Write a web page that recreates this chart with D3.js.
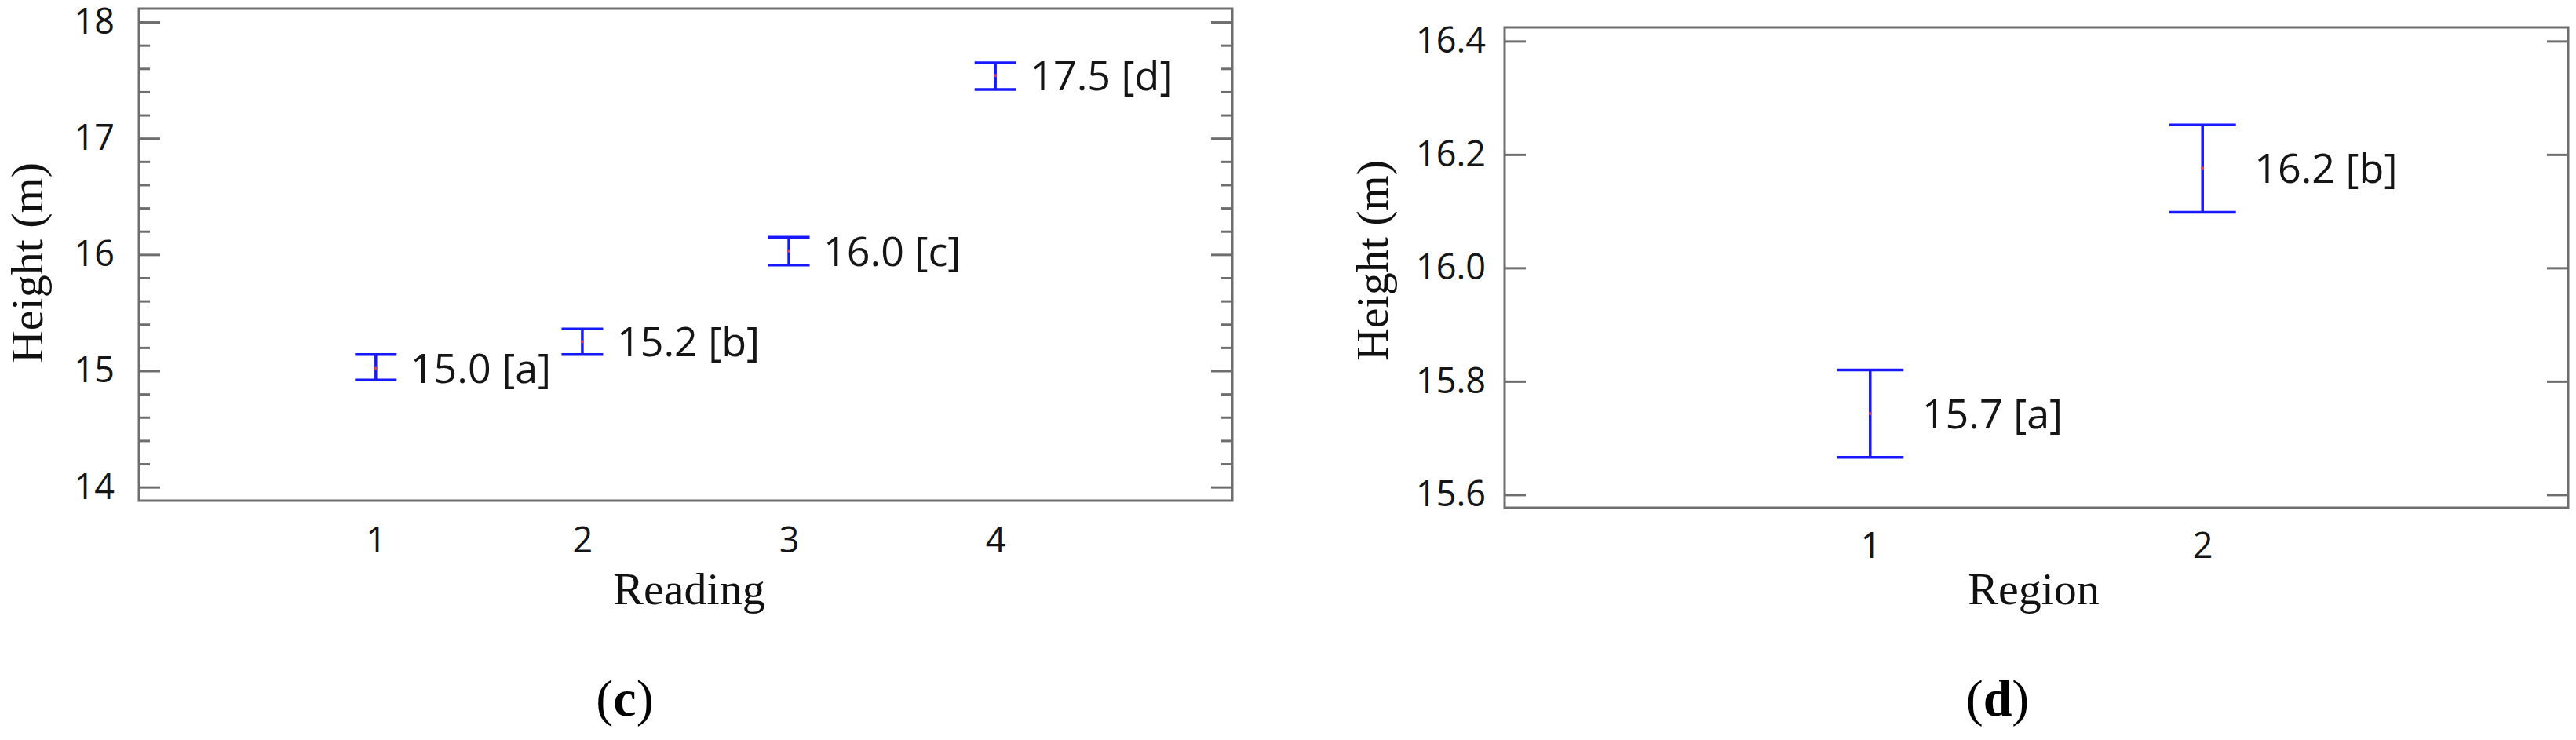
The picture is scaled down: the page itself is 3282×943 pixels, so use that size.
<!DOCTYPE html>
<html>
<head>
<meta charset="utf-8">
<script src="https://cdn.jsdelivr.net/npm/d3@7"></script>
<style>
  html, body { margin: 0; padding: 0; background: #fff; }
  svg { display: block; }
</style>
</head>
<body>
<div id="chart"></div>
<script>
(function () {
    "use strict";

    // panel (c) - reading
    var readingCats = [1, 2, 3, 4];
    var readingMean = [15.02, 15.25, 16.03, 17.54];
    var readingLow = [14.92, 15.14, 15.91, 17.42];
    var readingHigh = [15.14, 15.36, 16.15, 17.65];
    var readingLabels = ["15.0 [a]", "15.2 [b]", "16.0 [c]", "17.5 [d]"];
    var readingTicks = [14, 15, 16, 17, 18];
    var readingMinor = [14.2, 14.4, 14.6, 14.8, 15.2, 15.4, 15.6, 15.8,
        16.2, 16.4, 16.6, 16.8, 17.2, 17.4, 17.6, 17.8];

    // panel (d) - region
    var regionCats = [1, 2];
    var regionMean = [15.743, 16.176];
    var regionLow = [15.666, 16.098];
    var regionHigh = [15.82, 16.252];
    var regionLabels = ["15.7 [a]", "16.2 [b]"];
    var regionTicks = [15.6, 15.8, 16.0, 16.2, 16.4];

    var W = 3282, H = 943;
    var barColour = "#1818ff";
    var frameColour = "#6e6e6e";

    var svg = d3.select("#chart").append("svg")
        .attr("width", W)
        .attr("height", H);

    var panels = [
        {
            cats: readingCats, mean: readingMean, low: readingLow, high: readingHigh,
            labels: readingLabels, ticks: readingTicks, minor: readingMinor,
            fmt: d3.format("d"),
            left: 177, right: 1570, top: 11, bottom: 638,
            xDomain: [-0.147, 5.147], yDomain: [13.883, 18.115],
            capW: 53, labelOffset: 44, yPad: 31, xPad: 34,
            xTitle: "Reading", xTitleX: 878, yTitleX: 54, yTitleY: 335,
            tag: "c", tagX: 796
        },
        {
            cats: regionCats, mean: regionMean, low: regionLow, high: regionHigh,
            labels: regionLabels, ticks: regionTicks, minor: [],
            fmt: d3.format(".1f"),
            left: 1917, right: 3272, top: 35, bottom: 647,
            xDomain: [-0.1, 3.1], yDomain: [15.577, 16.424],
            capW: 85, labelOffset: 66, yPad: 24, xPad: 32,
            xTitle: "Region", xTitleX: 2591, yTitleX: 1768, yTitleY: 332,
            tag: "d", tagX: 2545
        }
    ];

    panels.forEach(function (p) {

        var x = d3.scaleLinear().domain(p.xDomain).range([p.left, p.right]);
        var y = d3.scaleLinear().domain(p.yDomain).range([p.bottom, p.top]);
        var g = svg.append("g");

        //Left axis with inward ticks
        g.append("g")
            .attr("transform", "translate(" + p.left + ",0)")
            .call(d3.axisLeft(y).tickValues(p.ticks).tickFormat(p.fmt)
                .tickSizeInner(-27).tickSizeOuter(0).tickPadding(p.yPad));
        g.append("g")
            .attr("transform", "translate(" + p.right + ",0)")
            .call(d3.axisRight(y).tickValues(p.ticks).tickFormat("")
                .tickSizeInner(-27).tickSizeOuter(0));

        if (p.minor.length) {
            g.append("g")
                .attr("transform", "translate(" + p.left + ",0)")
                .call(d3.axisLeft(y).tickValues(p.minor).tickFormat("")
                    .tickSizeInner(-14).tickSizeOuter(0));
            g.append("g")
                .attr("transform", "translate(" + p.right + ",0)")
                .call(d3.axisRight(y).tickValues(p.minor).tickFormat("")
                    .tickSizeInner(-14).tickSizeOuter(0));
        }

        //Bottom axis - labels only
        g.append("g")
            .attr("transform", "translate(0," + p.bottom + ")")
            .call(d3.axisBottom(x).tickValues(p.cats).tickFormat(d3.format("d"))
                .tickSize(0).tickPadding(p.xPad));

        g.selectAll(".domain").remove();
        g.selectAll(".tick line")
            .attr("stroke", frameColour)
            .attr("stroke-width", 3);
        g.selectAll(".tick text")
            .attr("fill", "#151515")
            .style("font-family", "'Open Sans', sans-serif")
            .style("font-size", "45px");

        //Frame
        g.append("rect")
            .attr("x", p.left)
            .attr("y", p.top)
            .attr("width", p.right - p.left)
            .attr("height", p.bottom - p.top)
            .attr("fill", "none")
            .attr("stroke", frameColour)
            .attr("stroke-width", 3);

        //Error bars
        var data = p.cats.map(function (c, i) {
            return { c: c, m: p.mean[i], lo: p.low[i], hi: p.high[i], label: p.labels[i] };
        });

        var bars = g.selectAll(".bar").data(data).enter().append("g").attr("class", "bar");

        bars.append("line")
            .attr("x1", function (d) { return x(d.c); })
            .attr("x2", function (d) { return x(d.c); })
            .attr("y1", function (d) { return y(d.lo); })
            .attr("y2", function (d) { return y(d.hi); });
        bars.append("line")
            .attr("x1", function (d) { return x(d.c) - p.capW / 2; })
            .attr("x2", function (d) { return x(d.c) + p.capW / 2; })
            .attr("y1", function (d) { return y(d.hi); })
            .attr("y2", function (d) { return y(d.hi); });
        bars.append("line")
            .attr("x1", function (d) { return x(d.c) - p.capW / 2; })
            .attr("x2", function (d) { return x(d.c) + p.capW / 2; })
            .attr("y1", function (d) { return y(d.lo); })
            .attr("y2", function (d) { return y(d.lo); });
        bars.selectAll("line")
            .attr("stroke", barColour)
            .attr("stroke-width", 3.5);

        bars.append("circle")
            .attr("cx", function (d) { return x(d.c); })
            .attr("cy", function (d) { return y(d.m); })
            .attr("r", 2)
            .attr("fill", "#d0406a");

        bars.append("text")
            .attr("x", function (d) { return x(d.c) + p.labelOffset; })
            .attr("y", function (d) { return y(d.m); })
            .attr("dy", "0.36em")
            .attr("fill", "#151515")
            .style("font-family", "'Open Sans', sans-serif")
            .style("font-size", "52px")
            .text(function (d) { return d.label; });

        //Axis titles
        g.append("text")
            .attr("x", p.xTitleX)
            .attr("y", 770)
            .attr("text-anchor", "middle")
            .attr("fill", "#111")
            .style("font-family", "'Liberation Serif', 'Times New Roman', serif")
            .style("font-size", "58px")
            .text(p.xTitle);

        g.append("text")
            .attr("transform", "translate(" + p.yTitleX + "," + p.yTitleY + ") rotate(-90)")
            .attr("text-anchor", "middle")
            .attr("fill", "#111")
            .style("font-family", "'Liberation Serif', 'Times New Roman', serif")
            .style("font-size", "58px")
            .text("Height (m)");

        //Panel tag
        var t = g.append("text")
            .attr("x", p.tagX)
            .attr("y", 912)
            .attr("text-anchor", "middle")
            .attr("fill", "#000")
            .style("font-family", "'Liberation Serif', 'Times New Roman', serif")
            .style("font-size", "66px");
        t.append("tspan").text("(");
        t.append("tspan").style("font-weight", "bold").text(p.tag);
        t.append("tspan").text(")");
    });

})();
</script>
</body>
</html>
